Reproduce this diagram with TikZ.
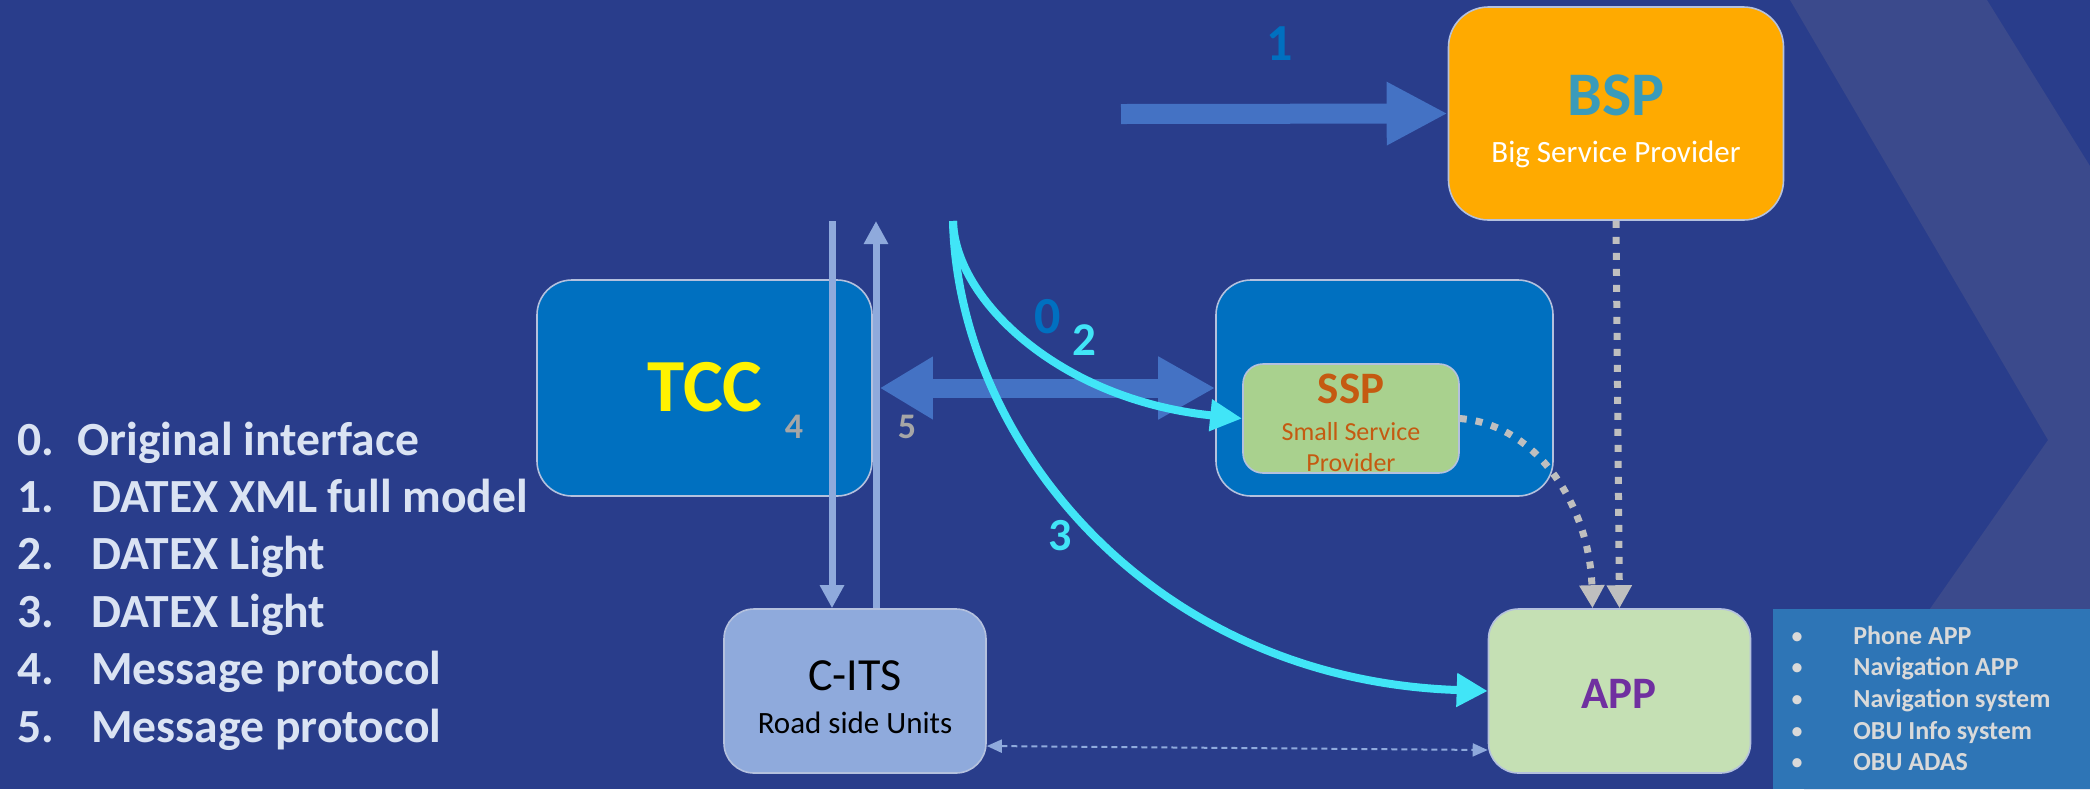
\documentclass[tikz,border=0pt]{standalone}
\usepackage{fontspec}
\setmainfont{Carlito}
\usepackage{tikz}
\usetikzlibrary{arrows.meta}
\definecolor{bgblue}{HTML}{293D8B}
\definecolor{bandblue}{HTML}{3B4A8C}
\definecolor{boxblue}{HTML}{0070C0}
\definecolor{arrowblue}{HTML}{4472C4}
\definecolor{paleblue}{HTML}{8FAADC}
\definecolor{cyanline}{HTML}{41E5F7}
\definecolor{bspfill}{HTML}{FFAA00}
\definecolor{bsptext}{HTML}{3A9BBA}
\definecolor{sspfill}{HTML}{A9D18E}
\definecolor{ssptext}{HTML}{C55A11}
\definecolor{appfill}{HTML}{C5E0B4}
\definecolor{apptext}{HTML}{7030A0}
\definecolor{dotgray}{HTML}{BFBFBF}
\definecolor{numgray}{HTML}{A6A6A6}
\definecolor{legendtext}{HTML}{DAE3F3}
\definecolor{appsfill}{HTML}{2E75B6}
\definecolor{appstext}{HTML}{D9D9D9}
\definecolor{edgegray}{HTML}{B4C1DE}
\tikzstyle{box}=[draw=edgegray, line width=0.8pt, rounded corners=17.5pt, inner sep=0pt]
\tikzstyle{bigbox}=[box, minimum width=167.5pt, minimum height=108pt]
\tikzstyle{smallbox}=[box, minimum width=131pt, minimum height=82pt, rounded corners=15pt]
\tikzstyle{txt}=[inner sep=0pt, anchor=base]
\tikzstyle{num}=[inner sep=0pt, font=\bfseries]
\tikzstyle{fat}=[color=arrowblue, line width=10pt]
\tikzstyle{pale}=[color=paleblue, line width=3.5pt, -{Triangle[length=11.5pt,width=11.5pt]}]
\tikzstyle{flow}=[color=cyanline, line width=4pt]
\tikzstyle{dots}=[color=dotgray, line width=3.5pt, dash pattern=on 3.5pt off 4.5pt, -{Triangle[length=11.5pt,width=12pt]}]
\tikzstyle{item}=[inner sep=0pt, anchor=base west, font=\bfseries]

\begin{document}
\begin{tikzpicture}[x=0.5pt, y=-0.5pt]
    \useasboundingbox (0,0) rectangle (2090,789);
    % background and the light chevron band
    \fill[bgblue] (0,0) rectangle (2090,789);
    \fill[bandblue] (1790,0) -- (1987,0) -- (2090,166) -- (2090,789) -- (1804,789) -- (2048,440) -- cycle;

    % boxes
    \node[bigbox, fill=boxblue] (tcc) at (704.5,388) {};
    \node[bigbox, fill=boxblue, minimum width=168.5pt] (sspouter) at (1384.5,388) {};
    \node[box, fill=sspfill, minimum width=108pt, minimum height=54.5pt, rounded corners=10pt] (ssp) at (1351,418.5) {};
    \node[bigbox, fill=bspfill, minimum height=106.5pt, rounded corners=20pt] (bsp) at (1616,113.5) {};
    \node[smallbox, fill=appfill] (app) at (1619.5,691) {};
    \node[smallbox, fill=paleblue] (cits) at (855,691) {};
    \node[fill=appsfill, inner sep=0pt, minimum width=158.5pt, minimum height=90pt, anchor=north west] (apps) at (1773,609) {};

    % box texts
    \node[txt, text=bsptext, font=\fontsize{31pt}{37pt}\selectfont\bfseries] (bsptitle) at (1616,115) {BSP};
    \node[txt, text=white, font=\fontsize{15.5pt}{18pt}\selectfont] (bspsub) at (1616,162) {Big Service Provider};
    \node[txt, text=yellow, font=\fontsize{37.5pt}{44pt}\selectfont\bfseries] (tcctitle) at (705,411) {TCC};
    \node[txt, text=ssptext, font=\fontsize{22.5pt}{27pt}\selectfont\bfseries] (ssptitle) at (1351,403) {SSP};
    \node[txt, text=ssptext, font=\fontsize{13pt}{16pt}\selectfont] (sspsub1) at (1351,440) {Small Service};
    \node[txt, text=ssptext, font=\fontsize{13pt}{16pt}\selectfont] (sspsub2) at (1351,471) {Provider};
    \node[txt, text=apptext, font=\fontsize{22.5pt}{27pt}\selectfont\bfseries] (apptitle) at (1619,708) {APP};
    \node[txt, text=black, font=\fontsize{23pt}{28pt}\selectfont] (citstitle) at (855,690) {C-ITS};
    \node[txt, text=black, font=\fontsize{15.5pt}{18pt}\selectfont] (citssub) at (855,733) {Road side Units};

    % interfaces
    \coordinate (feed) at (1121,114);
    \draw[fat, -{Triangle[length=30.5pt,width=29.5pt]}] (feed) -- (bsp.west);
    \draw[arrowblue, line width=9.5pt, {Triangle[length=26.5pt,width=29.5pt]}-{Triangle[length=28.5pt,width=29.5pt]}]
    ([xshift=3.5pt]tcc.east) -- (sspouter.west);

    \coordinate (down) at (832,221);
    \coordinate (up) at (876,221);
    \draw[pale] (down) -- (down |- cits.north);
    \draw[pale] (up |- cits.north) -- (up);

    \coordinate (src) at (953,221);
    \draw[flow, -{Triangle[length=16pt,width=15pt]}] (src) .. controls (955,300) and (1060,400) .. (ssp.west);
    \draw[flow, -{Triangle[length=15.5pt,width=16pt]}] (src) .. controls (958,440) and (1150,680) .. (app.west);

    \draw[dots] (ssp.east) .. controls (1540,425) and (1590,510) .. ([xshift=-13.5pt]app.north);
    \draw[dots] (bsp.south) -- (app.north);
    \draw[paleblue, line width=1pt, dash pattern=on 3pt off 2pt, {Triangle[length=7.5pt,width=6.5pt]}-{Triangle[length=7.5pt,width=6.5pt]}]
    ([yshift=-27.5pt]cits.east) -- ([yshift=-29.5pt]app.west);

    % interface numbers
    \node[num, text=boxblue, font=\fontsize{26pt}{30pt}\selectfont\bfseries] (lbl0) at (1048,317) {0};
    \node[num, text=boxblue, font=\fontsize{26pt}{30pt}\selectfont\bfseries] (lbl1) at (1280,44) {1};
    \node[num, text=cyanline, font=\fontsize{23.5pt}{28pt}\selectfont\bfseries] (lbl2) at (1084,340) {2};
    \node[num, text=cyanline, font=\fontsize{23pt}{28pt}\selectfont\bfseries] (lbl3) at (1060,536) {3};
    \node[num, text=numgray, font=\fontsize{18pt}{22pt}\selectfont\bfseries] (lbl4) at (794,427) {4};
    \node[num, text=numgray, font=\fontsize{18pt}{22pt}\selectfont\bfseries] (lbl5) at (907,427) {5};

    % legend on the left
    \node[item, text=legendtext, font=\fontsize{23.8pt}{28pt}\selectfont\bfseries] (leg0) at (17,455) {\makebox[30pt][l]{0.}Original interface};
    \foreach \t [count=\i] in {DATEX XML full model, DATEX Light, DATEX Light, Message protocol, Message protocol}{
      \node[item, text=legendtext, font=\fontsize{23.8pt}{28pt}\selectfont\bfseries] (leg\i) at (17,{455+57.4*\i}) {\makebox[37pt][l]{\i.}\t};
    }

    % kinds of app
    \foreach \t [count=\i from 0] in {Phone APP, Navigation APP, Navigation system, OBU Info system, OBU ADAS}{
      \node[item, text=appstext, font=\fontsize{13pt}{16pt}\selectfont\bfseries] (kind\i) at (1853,{644+31.7*\i}) {\t};
      \node[txt, text=appstext, font=\fontsize{13pt}{16pt}\selectfont] (dot\i) at (1797,{644+31.7*\i}) {\textbullet};
    }
\end{tikzpicture}
\end{document}
